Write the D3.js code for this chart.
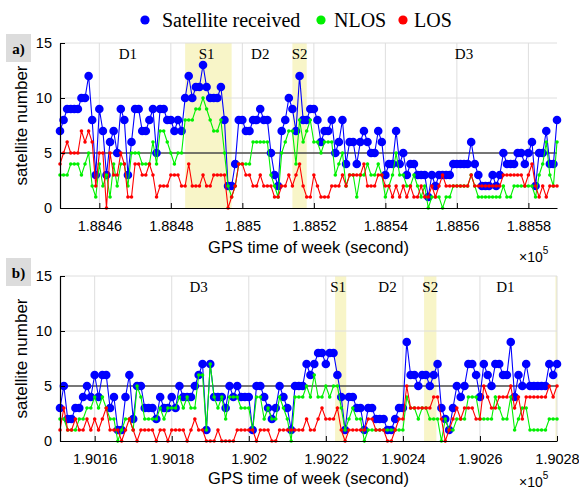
<!DOCTYPE html>
<html>
<head>
<meta charset="utf-8">
<script src="https://cdn.jsdelivr.net/npm/d3@7/dist/d3.min.js"></script>
<style>
  body { margin: 0; background: #fff; }
  text { fill: #000; }
</style>
</head>
<body>
<svg id="chart" width="579" height="493"></svg>
<script>
// ---------------- data (1 Hz samples) ----------------
// panel a)
var startA = 188449;
var receivedA = [7,8,9,9,9,9,10,10,12,8, 3,9,7,3,6,7,5,9,8,3, 6,9,9,7,7,8,9,5,9,9,
  8,8,7,8,7,10,12,10,11,11, 13,11,10,10,10,11,8,2,2,4, 8,8,7,7,8,8,9,8,8,5,
  3,2,7,8,10,9,7,12,8,8, 9,9,8,6,7,7,8,5,6,8, 4,6,6,4,6,7,6,5,5,7,
  6,3,4,4,7,4,5,3,4,4, 3,3,3,1,3,2,3,3,3,3, 4,4,4,4,4,6,4,3,2,2,
  2,3,2,3,5,4,4,4,5,5, 4,5,6,2,5,5,7,4,4,8];
var nlosA = [3,3,3,4,4,4,3,4,5,2, 1,4,2,3,1,4,2,4,4,2, 5,5,5,4,4,4,6,4,7,7,
  6,5,4,5,5,8,8,8,9,9, 10,9,8,7,7,8,5,2,1,2, 4,4,4,4,6,6,6,6,6,3,
  2,1,5,6,7,7,4,8,6,7, 8,6,6,5,6,6,6,3,4,5, 2,3,3,1,3,3,4,3,3,4,
  3,1,2,3,5,3,3,2,2,3, 2,1,2,0,1,1,1,0,1,1, 2,2,2,2,2,3,2,1,1,1,
  1,1,1,1,2,1,1,2,2,2, 2,2,2,1,3,4,6,3,2,6];
var losA = [4,5,6,5,5,5,7,6,7,6, 2,5,5,0,5,3,3,5,4,1, 1,4,4,3,3,4,3,1,2,2,
  2,3,3,3,2,2,4,2,2,2, 3,2,2,3,3,3,3,0,1,2, 4,4,3,3,2,2,3,2,2,2,
  1,1,2,2,3,2,3,4,2,1, 1,3,2,1,1,1,2,2,2,3, 2,3,3,3,3,4,2,2,2,3,
  3,2,2,1,2,1,2,1,2,1, 1,2,1,1,2,1,2,3,2,2, 2,2,2,2,2,3,2,2,2,2,
  2,2,2,2,3,3,3,3,3,3, 2,3,4,2,1,2,1,2,2,2];
var ticksA = [188460,188480,188500,188520,188540,188560,188580];
var shadesA = [[188484,188497],[188514,188518]];
var zoneNamesA = ["D1","S1","D2","S2","D3"];
var zoneTimesA = [188468,188490,188505,188516,188562];

// panel b)
var startB = 190151;
var receivedB = [3,5,2,2,3,3,4,5,4,6, 4,6,6,3,4,1,1,4,6,2, 5,5,3,3,3,2,4,3,3,4,
  3,5,4,4,4,5,6,7,1,7, 4,4,4,3,5,4,5,4,4,4, 1,5,5,4,3,2,3,5,4,3,
  1,5,5,5,7,6,7,8,8,7, 8,8,6,4,1,4,4,3,3,1, 3,3,2,2,2,1,1,2,3,3,
  9,6,6,5,6,6,5,6,7,3, 2,1,3,5,4,5,7,7,6,4, 7,6,5,7,7,6,6,9,4,6,
  5,7,5,5,5,5,5,7,6,7];
var nlosB = [2,2,1,1,1,2,2,3,3,4, 3,4,3,2,2,0,1,2,2,1, 5,4,2,2,2,2,3,2,3,3,
  3,4,3,4,3,3,6,6,1,7, 4,3,4,2,4,4,4,3,3,3, 1,4,4,2,3,2,2,4,3,2,
  0,4,4,4,5,4,6,4,4,5, 4,5,5,3,1,2,3,2,2,0, 1,1,1,1,1,1,1,1,1,1,
  4,3,3,2,3,3,2,2,2,0, 2,1,1,2,2,2,4,4,4,2, 2,2,2,4,3,2,2,4,1,2,
  3,3,1,1,1,1,1,2,2,2];
var losB = [1,3,1,1,2,1,1,2,1,2, 1,2,3,1,1,1,0,1,2,1, 0,1,1,1,1,0,1,1,0,1,
  1,1,1,0,1,2,1,1,0,0, 0,1,0,0,0,0,1,1,1,1, 1,0,1,1,1,0,0,1,1,1,
  1,1,1,1,2,1,1,2,3,2, 2,2,3,1,0,1,1,1,1,1, 2,2,1,1,1,0,0,1,2,2,
  5,3,3,3,3,3,3,4,4,2, 0,1,2,3,2,3,3,3,2,2, 5,4,3,3,4,4,4,5,3,4,
  2,4,4,4,4,4,4,5,4,5];
var ticksB = [190160,190180,190200,190220,190240,190260,190280];
var shadesB = [[190222.4,190225.3],[190245.5,190248.7],[190279.6,190280]];
var zoneNamesB = ["D3","S1","D2","S2","D1"];
var zoneTimesB = [190187,190223.2,190236,190247.1,190266.6];

var yTicks = [0,5,10,15];
var seriesNames = ["Satellite received","NLOS","LOS"];
var seriesColors = ["#0000ff","#00f000","#ff0000"];
// ---------------------------------------------------------------------------

var svg = d3.select("#chart");
var sans = "'Liberation Sans', Arial, sans-serif";
var serif = "'Liberation Serif', 'Times New Roman', serif";
var left = 60, right = 557;

// legend
var legend = svg.append("g");
var legendX = [145, 321, 403];
var legendTextX = [162, 334, 414];
seriesNames.forEach(function(name, i) {
  legend.append("circle").attr("cx", legendX[i]).attr("cy", 20).attr("r", 4.6)
    .attr("fill", seriesColors[i]);
  legend.append("text").attr("x", legendTextX[i]).attr("y", 27)
    .style("font-family", serif).style("font-size", "20px").text(name);
});

function drawPanel(opt) {
  var n = opt.received.length;
  var times = d3.range(n).map(function(i) { return opt.start + i; });
  var x = d3.scaleLinear().domain([opt.start, opt.start + n - 1]).range([left, right]);
  var y = d3.scaleLinear().domain([0, 15]).range([opt.bottom, opt.bottom - 165]);
  var g = svg.append("g");

  // shaded zones
  g.selectAll("rect.shade").data(opt.shades).enter().append("rect")
    .attr("class", "shade")
    .attr("x", function(d) { return x(d[0]); })
    .attr("width", function(d) { return x(d[1]) - x(d[0]); })
    .attr("y", y(15)).attr("height", y(0) - y(15))
    .attr("fill", "#f8f5c8");

  // grid
  g.selectAll("line.vgrid").data(opt.ticks).enter().append("line")
    .attr("x1", function(d) { return x(d); }).attr("x2", function(d) { return x(d); })
    .attr("y1", y(0)).attr("y2", y(15))
    .attr("stroke", "#dedede").attr("stroke-width", 1);
  g.selectAll("line.hgrid").data([5, 10, 15]).enter().append("line")
    .attr("x1", left).attr("x2", right)
    .attr("y1", function(d) { return y(d); }).attr("y2", function(d) { return y(d); })
    .attr("stroke", "#dedede").attr("stroke-width", 1);

  // zone names
  g.selectAll("text.zone").data(opt.zoneNames).enter().append("text")
    .attr("x", function(d, i) { return x(opt.zoneTimes[i]); })
    .attr("y", y(15) + 16)
    .attr("text-anchor", "middle")
    .style("font-family", serif).style("font-size", "15px")
    .text(function(d) { return d; });

  // threshold line at 5 satellites
  g.append("line").attr("x1", left).attr("x2", right)
    .attr("y1", y(5)).attr("y2", y(5))
    .attr("stroke", "#000").attr("stroke-width", 1.2);

  var line = d3.line()
    .x(function(d, i) { return x(times[i]); })
    .y(function(d) { return y(d); });

  var series = [opt.received, opt.nlos, opt.los];
  var radius = [4.3, 1.8, 1.8];
  series.forEach(function(vals, k) {
    g.append("path").datum(vals).attr("d", line)
      .attr("fill", "none").attr("stroke", seriesColors[k]).attr("stroke-width", 1.1);
    g.selectAll("circle.s" + k).data(vals).enter().append("circle")
      .attr("cx", function(d, i) { return x(times[i]); })
      .attr("cy", function(d) { return y(d); })
      .attr("r", radius[k])
      .attr("fill", seriesColors[k]);
  });

  // axes
  var xAxis = d3.axisBottom(x).tickValues(opt.ticks).tickSizeInner(-5).tickSizeOuter(0)
    .tickPadding(13)
    .tickFormat(function(d) { return String(+(d / 1e5).toFixed(4)); });
  var gx = g.append("g").attr("transform", "translate(0," + y(0) + ")").call(xAxis);
  var yAxis = d3.axisLeft(y).tickValues(yTicks).tickSizeInner(-5).tickSizeOuter(0)
    .tickPadding(8);
  var gy = g.append("g").attr("transform", "translate(" + left + ",0)").call(yAxis);
  [gx, gy].forEach(function(ax) {
    ax.select(".domain").attr("stroke", "#000").attr("stroke-width", 1.2);
    ax.selectAll(".tick line").attr("stroke", "#000");
    ax.selectAll("text").style("font-family", sans).style("font-size", "14.5px")
      .attr("fill", "#222");
  });

  // axis titles
  g.append("text").attr("x", (left + right) / 2).attr("y", y(0) + opt.titleGap)
    .attr("text-anchor", "middle")
    .style("font-family", sans).style("font-size", "16.5px").attr("fill", "#222")
    .text("GPS time of week (second)");
  var ex = g.append("text").attr("x", 519).attr("y", y(0) + opt.expGap)
    .style("font-family", sans).style("font-size", "14px").attr("fill", "#222");
  ex.append("tspan").text("\u00d710");
  ex.append("tspan").attr("dy", -8).style("font-size", "10px").text("5");
  g.append("text")
    .attr("transform", "translate(27," + (y(7.5)) + ") rotate(-90)")
    .attr("text-anchor", "middle")
    .style("font-family", sans).style("font-size", "17px").attr("fill", "#222")
    .text("satellite number");

  // panel tag
  g.append("rect").attr("x", 6).attr("y", opt.tagTop).attr("width", 25).attr("height", 28)
    .attr("fill", "#dcdcdc");
  g.append("text").attr("x", 18.5).attr("y", opt.tagTop + 20).attr("text-anchor", "middle")
    .style("font-family", serif).style("font-size", "15px").style("font-weight", "bold")
    .text(opt.tag);
}

drawPanel({ start: startA, received: receivedA, nlos: nlosA, los: losA, ticks: ticksA,
  shades: shadesA, zoneNames: zoneNamesA, zoneTimes: zoneTimesA,
  bottom: 208, tag: "a)", tagTop: 34, titleGap: 45, expGap: 54 });
drawPanel({ start: startB, received: receivedB, nlos: nlosB, los: losB, ticks: ticksB,
  shades: shadesB, zoneNames: zoneNamesB, zoneTimes: zoneTimesB,
  bottom: 441, tag: "b)", tagTop: 258, titleGap: 43, expGap: 46 });
</script>
</body>
</html>
